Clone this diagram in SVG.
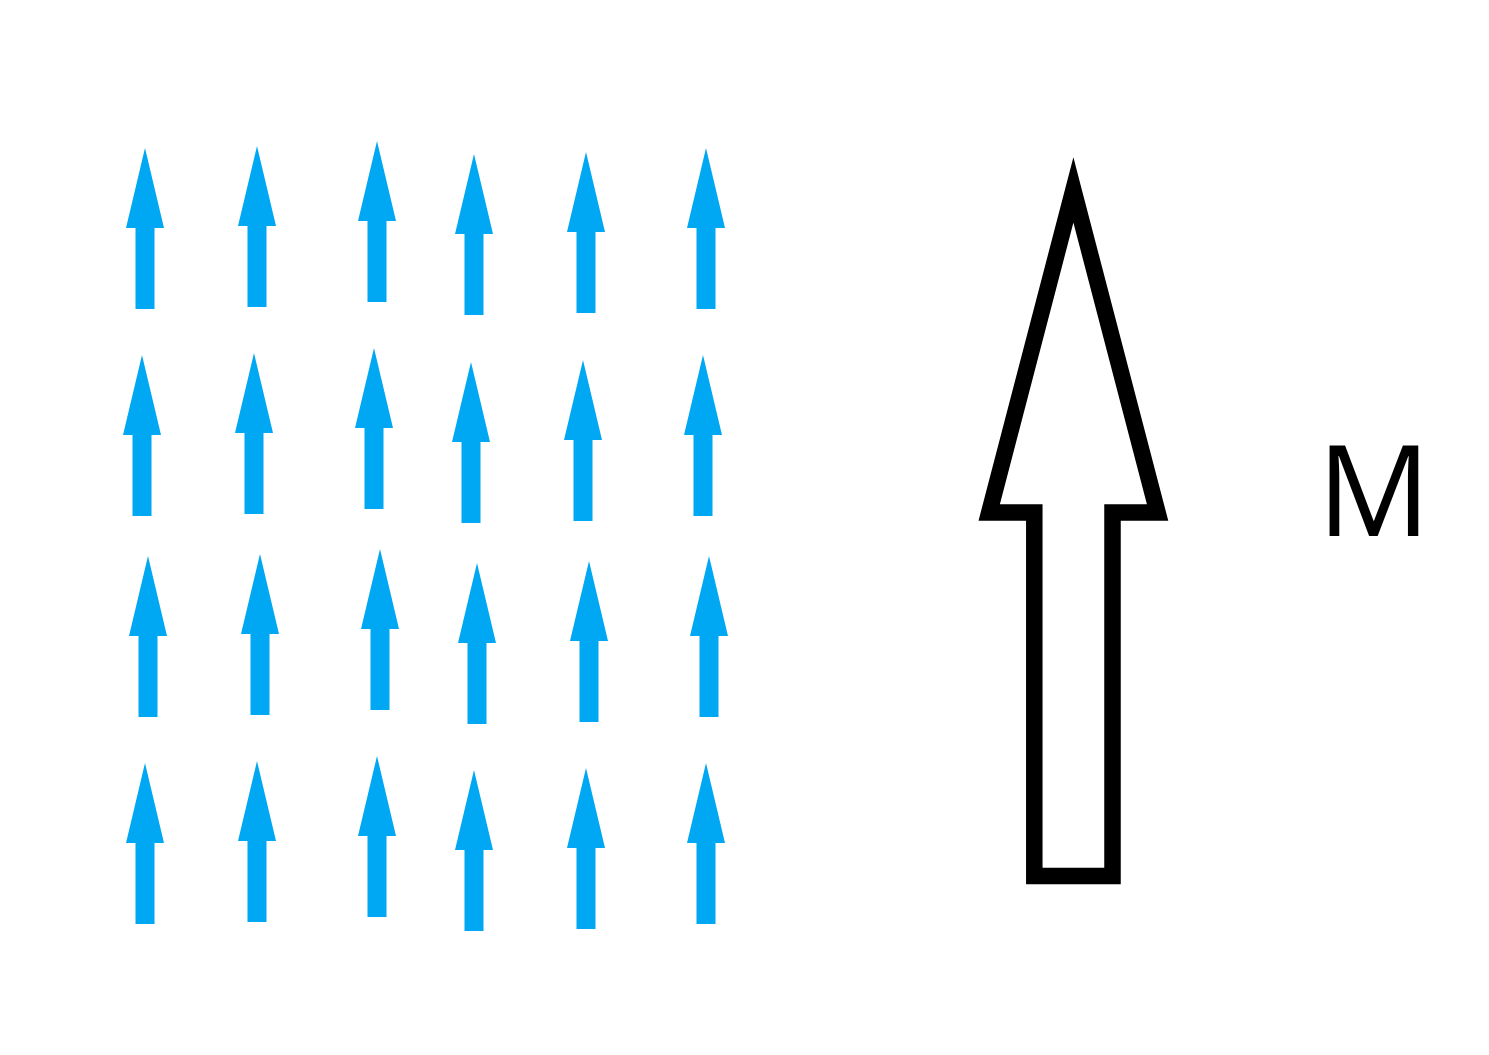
<svg xmlns="http://www.w3.org/2000/svg" xmlns:xlink="http://www.w3.org/1999/xlink" width="1489" height="1055" viewBox="0 0 1489 1055">
<style>
.spin{fill:#00A8F3}
.big{fill:none;stroke:#000;stroke-width:16.5;stroke-miterlimit:10}
.lbl{font-family:"Open Sans","Noto Sans",sans-serif;font-size:126px;fill:#000}
</style>
<defs>
<path id="a" class="spin" d="M0,0 L19,80 L9.5,80 L9.5,161 L-9.5,161 L-9.5,80 L-19,80 Z"/>
</defs>
<rect width="1489" height="1055" fill="#fff"/>
<g id="spins">
<use xlink:href="#a" x="145" y="148"/>
<use xlink:href="#a" x="257" y="146"/>
<use xlink:href="#a" x="377" y="141"/>
<use xlink:href="#a" x="474" y="154"/>
<use xlink:href="#a" x="586" y="152"/>
<use xlink:href="#a" x="706" y="148"/>
<use xlink:href="#a" x="142" y="355"/>
<use xlink:href="#a" x="254" y="353"/>
<use xlink:href="#a" x="374" y="348"/>
<use xlink:href="#a" x="471" y="362"/>
<use xlink:href="#a" x="583" y="360"/>
<use xlink:href="#a" x="703" y="355"/>
<use xlink:href="#a" x="148" y="556"/>
<use xlink:href="#a" x="260" y="554"/>
<use xlink:href="#a" x="380" y="549"/>
<use xlink:href="#a" x="477" y="563"/>
<use xlink:href="#a" x="589" y="561"/>
<use xlink:href="#a" x="709" y="556"/>
<use xlink:href="#a" x="145" y="763"/>
<use xlink:href="#a" x="257" y="761"/>
<use xlink:href="#a" x="377" y="756"/>
<use xlink:href="#a" x="474" y="770"/>
<use xlink:href="#a" x="586" y="768"/>
<use xlink:href="#a" x="706" y="763"/>
</g>
<g id="magnetization">
<path class="big" d="M1073.4,190 L1157.6,512.5 L1112.5,512.5 L1112.5,876 L1034.3,876 L1034.3,512.5 L989.2,512.5 Z"/>
</g>
<g id="label-M">
<text class="lbl" x="1374" y="536" text-anchor="middle">M</text>
</g>
</svg>
